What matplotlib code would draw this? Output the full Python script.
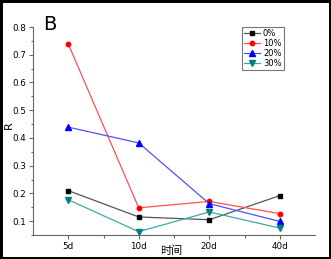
import matplotlib
matplotlib.use('Agg')
import matplotlib.pyplot as plt
from matplotlib.ticker import MultipleLocator, FixedLocator

plt.rcParams['font.family'] = ['DejaVu Sans', 'Noto Sans CJK SC']

# data
days = ['5d', '10d', '20d', '40d']
r_0 = [0.21, 0.115, 0.105, 0.192]
r_10 = [0.739, 0.148, 0.171, 0.127]
r_20 = [0.439, 0.382, 0.163, 0.099]
r_30 = [0.177, 0.062, 0.133, 0.075]
labels = ['0%', '10%', '20%', '30%']

xs = list(range(1, len(days) + 1))

fig = plt.figure(figsize=(3.31, 2.59), dpi=100)
fig.patch.set_edgecolor('black')
fig.patch.set_linewidth(2.5)
ax = fig.add_axes([0.0997, 0.0927, 0.852, 0.803])

ax.plot(xs, r_0, '-s', color='#555555', mfc='black', mec='black', ms=3.2, lw=0.9, label=labels[0])
ax.plot(xs, r_10, '-o', color='#ff5050', mfc='red', mec='red', ms=3.2, lw=0.9, label=labels[1])
ax.plot(xs, r_20, '-^', color='#5050ff', mfc='blue', mec='blue', ms=3.8, lw=0.9, label=labels[2])
ax.plot(xs, r_30, '-v', color='#40a8a8', mfc='#008080', mec='#008080', ms=3.8, lw=0.9, label=labels[3])

ax.set_xlim(0.5, 4.5)
ax.set_ylim(0.05, 0.8)
ax.set_xticks(xs)
ax.set_xticklabels(days)
ax.xaxis.set_minor_locator(FixedLocator([1.5, 2.5, 3.5]))
ax.set_yticks([0.1, 0.2, 0.3, 0.4, 0.5, 0.6, 0.7, 0.8])
ax.yaxis.set_minor_locator(MultipleLocator(0.05))

ax.spines['top'].set_visible(False)
ax.spines['right'].set_visible(False)
ax.spines['left'].set_color('#666666')
ax.spines['bottom'].set_color('#666666')
ax.tick_params(which='major', direction='out', length=3, width=0.8, color='#666666', labelsize=6.3, pad=2)
ax.tick_params(which='minor', direction='out', length=1.8, width=0.8, color='#666666')

ax.set_xlabel('时间', fontsize=8, family=['Noto Sans CJK SC', 'DejaVu Sans'])
ax.xaxis.set_label_coords(0.49, -0.05)
ax.set_ylabel('R', fontsize=8)
ax.yaxis.set_label_coords(-0.068, 0.53)

fig.text(43 / 331, 1 - 15 / 259, 'B', fontsize=14, va='top', ha='left')

leg = ax.legend(loc='upper left', bbox_to_anchor=(0.74, 1.0), fontsize=6, frameon=True,
                fancybox=False, handlelength=2.0, handletextpad=0.3, labelspacing=0.1,
                borderpad=0.25, borderaxespad=0)
leg.get_frame().set_edgecolor('#555555')
leg.get_frame().set_linewidth(0.8)

fig.savefig('out.png', dpi=100)
